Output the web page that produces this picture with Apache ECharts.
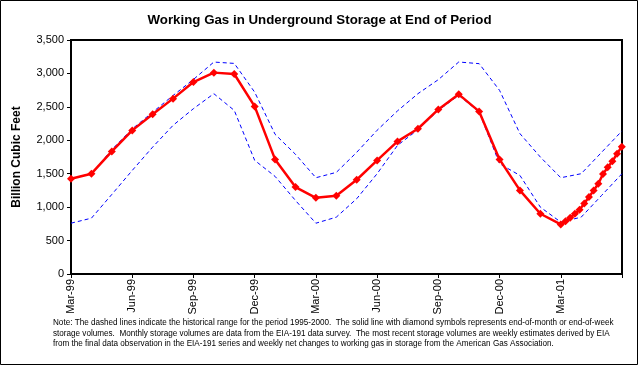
<!DOCTYPE html>
<html>
<head>
<meta charset="utf-8">
<script src="https://cdn.jsdelivr.net/npm/echarts@6/dist/echarts.min.js"></script>
<style>html,body{margin:0;padding:0;background:#fff;}#c{width:639px;height:366px;}</style>
</head>
<body>
<div id="c"></div>
<script>
// Month index 0 = Mar-99 ... 27 = Jun-01
var tickLabels = ['Mar-99','Jun-99','Sep-99','Dec-99','Mar-00','Jun-00','Sep-00','Dec-00','Mar-01',''];
// End-of-month storage (EIA-191), Mar-99 .. Mar-01
var monthlyStorage = [1425,1500,1834,2148,2388,2623,2871,3012,2991,2507,1714,1300,1140,1170,1410,1699,1983,2173,2462,2687,2432,1714,1250,901,741];
// Weekly estimates after Mar-01 (weeks 1..13)
var weeklyStorage = [790,842,900,960,1055,1150,1250,1350,1495,1595,1685,1800,1905];
// Historical range 1995-2000, Mar-99 .. Jun-01
var rangeHigh = [1430,1500,1860,2170,2420,2670,2910,3170,3150,2720,2090,1790,1440,1520,1820,2150,2440,2697,2907,3171,3146,2747,2099,1749,1440,1500,1820,2140];
var rangeLow  = [760,835,1190,1549,1898,2223,2473,2697,2447,1700,1460,1100,760,850,1126,1500,1924,2158,2448,2672,2422,1649,1474,1000,776,850,1175,1500];
var noteLines = [
 'Note: The dashed lines indicate the historical range for the period 1995-2000.  The solid line with diamond symbols represents end-of-month or end-of-week',
 'storage volumes.  Monthly storage volumes are data from the EIA-191 data survey.  The most recent storage volumes are weekly estimates derived by EIA',
 'from the final data observation in the EIA-191 series and weekly net changes to working gas in storage from the American Gas Association.'
];

var FONT = 'Liberation Sans';
var storagePts = monthlyStorage.map(function(v,i){return [i,v];});
var lastM = monthlyStorage.length - 1;
weeklyStorage.forEach(function(v,k){ storagePts.push([lastM + (k+1)*7/30.44, v]); });
var highPts = rangeHigh.map(function(v,i){return [i,v];});
var lowPts = rangeLow.map(function(v,i){return [i,v];});

var chart = echarts.init(document.getElementById('c'), null, {renderer:'canvas'});
chart.setOption({
  animation:false,
  backgroundColor:'#fff',
  title:{text:'Working Gas in Underground Storage at End of Period', left:'center', top:9,
    textStyle:{fontFamily:FONT, fontSize:13.3, fontWeight:'bold', color:'#000'}},
  grid:{left:71, top:40, right:17, bottom:92, show:true, borderColor:'#000', borderWidth:2, backgroundColor:'#fff'},
  xAxis:{type:'value', min:0, max:27, interval:3,
    axisLine:{lineStyle:{color:'#000', width:2}},
    axisTick:{show:true, length:4, lineStyle:{color:'#000', width:1}},
    splitLine:{show:false},
    axisLabel:{rotate:90, margin:5, fontFamily:FONT, fontSize:11, color:'#000',
      formatter:function(v){return tickLabels[Math.round(v/3)] || '';}}},
  yAxis:{type:'value', min:0, max:3500, interval:500,
    name:'Billion Cubic Feet', nameLocation:'middle', nameGap:48,
    nameTextStyle:{fontFamily:FONT, fontSize:12, fontWeight:'bold', color:'#000'},
    axisLine:{show:true, lineStyle:{color:'#000', width:2}},
    axisTick:{show:true, length:4, lineStyle:{color:'#000', width:1}},
    splitLine:{show:false},
    axisLabel:{margin:7, fontFamily:FONT, fontSize:11, color:'#000',
      formatter:function(v){return v.toLocaleString('en-US');}}},
  series:[
    {type:'line', data:highPts, symbol:'none', lineStyle:{color:'#0000ff', width:1, type:[4,3]}, z:2},
    {type:'line', data:lowPts, symbol:'none', lineStyle:{color:'#0000ff', width:1, type:[4,3]}, z:2},
    {type:'line', data:storagePts, symbol:'diamond', symbolSize:8, itemStyle:{color:'#ff0000'},
     lineStyle:{color:'#ff0000', width:2.5}, z:3}
  ],
  graphic:[
    {type:'rect', shape:{x:0.5, y:0.5, width:637, height:364}, style:{fill:null, stroke:'#000', lineWidth:1}, silent:true},
    {type:'text', left:53, top:318, style:{text:noteLines.join('\n'), font:'8.15px "Liberation Sans"', lineHeight:10.5, fill:'#000'}}
  ]
});
</script>
</body>
</html>
